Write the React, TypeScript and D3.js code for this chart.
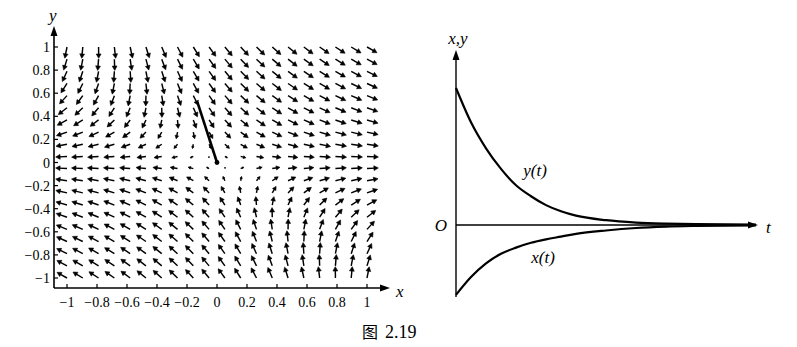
import React from 'react';
import * as d3 from 'd3';

// vector field: dx/dt = a*x + b*y, dy/dt = c*x + d*y
const dxCoef = [0.75, 0.6];
const dyCoef = [0, -1];
const gridCount = 20;
const tickVals = [-1, -0.8, -0.6, -0.4, -0.2, 0, 0.2, 0.4, 0.6, 0.8, 1];
const tickText = ['−1', '−0.8', '−0.6', '−0.4', '−0.2', '0', '0.2', '0.4', '0.6', '0.8', '1'];
// straight trajectory into the origin
const trajX = [-0.13, 0];
const trajY = [0.52, 0];

// right panel
const tVals = [0, 0.5, 1, 1.5, 2, 2.5, 3, 3.5, 4, 5, 6, 7, 8, 9, 10];
const yVals = [1, 0.75, 0.56, 0.41, 0.29, 0.21, 0.145, 0.1, 0.068, 0.035, 0.018, 0.01, 0.006, 0.004, 0.003];
const xVals = [-0.51, -0.38, -0.28, -0.21, -0.165, -0.13, -0.105, -0.085, -0.065, -0.04, -0.022, -0.012, -0.007, -0.004, -0.003];

const serif = "'Liberation Serif', 'DejaVu Serif', 'Times New Roman', serif";
const txt = { fontFamily: serif };
const itxt = { fontFamily: serif, fontStyle: 'italic' as const };

const App = () => {
  const xs = d3.scaleLinear().domain([-1, 1]).range([67, 367]);
  const ys = d3.scaleLinear().domain([-1, 1]).range([278, 47]);
  const axX = 54;
  const axY = 288;

  const grid = d3.range(gridCount).map((i) => -1 + (2 * i) / (gridCount - 1));

  const arrows: { x0: number; y0: number; x1: number; y1: number; h: string }[] = [];
  grid.forEach((gx) => {
    grid.forEach((gy) => {
      const u = dxCoef[0] * gx + dxCoef[1] * gy;
      const v = dyCoef[0] * gx + dyCoef[1] * gy;
      const x0 = xs(gx);
      const y0 = ys(gy);
      const px = xs(gx + u) - x0;
      const py = ys(gy + v) - y0;
      const mp = Math.hypot(px, py);
      if (mp < 1e-6) return;
      const L = 11.5 * Math.tanh(mp / 45);
      const x1 = x0 + (px / mp) * L;
      const y1 = y0 + (py / mp) * L;
      const hs = Math.min(5, L * 0.55);
      const ang = Math.atan2(py, px);
      const a1 = ang + Math.PI - 0.5;
      const a2 = ang + Math.PI + 0.5;
      const h = `M${x1 + hs * Math.cos(a1)},${y1 + hs * Math.sin(a1)}L${x1},${y1}L${x1 + hs * Math.cos(a2)},${y1 + hs * Math.sin(a2)}Z`;
      // shaft stops inside the head
      const sx = x1 - (px / mp) * hs * 0.6;
      const sy = y1 - (py / mp) * hs * 0.6;
      arrows.push({ x0, y0, x1: sx, y1: sy, h });
    });
  });

  const traj = d3
    .line<number>()
    .x((_, i) => xs(trajX[i]))
    .y((_, i) => ys(trajY[i]))(trajX);

  // right panel scales
  const ts = d3.scaleLinear().domain([0, 10]).range([456, 756]);
  const vs = d3.scaleLinear().domain([0, 1]).range([225, 88]);
  const curve = (vals: number[]) =>
    d3
      .line<number>()
      .x((_, i) => ts(tVals[i]))
      .y((d) => vs(d))
      .curve(d3.curveMonotoneX)(vals) || '';

  return (
    <svg width={797} height={347} style={{ position: 'absolute', left: 0, top: 0, background: '#fff' }}>
      {/* left panel: direction field */}
      <g stroke="#000" fill="#000" strokeWidth={1.45}>
        {arrows.map((a, i) => (
          <g key={i}>
            <line x1={a.x0} y1={a.y0} x2={a.x1} y2={a.y1} />
            <path d={a.h} strokeWidth={0.6} strokeLinejoin="miter" />
          </g>
        ))}
      </g>

      {/* axes */}
      <g stroke="#000" strokeWidth={1.6}>
        <line x1={axX} y1={axY} x2={axX} y2={32} />
        <line x1={axX} y1={axY} x2={383} y2={axY} />
      </g>
      <path d={`M${axX},26L${axX - 3.5},36L${axX + 3.5},36Z`} fill="#000" />
      <path d={`M390,${axY}L380,${axY - 3.5}L380,${axY + 3.5}Z`} fill="#000" />
      {tickVals.map((t, i) => (
        <g key={'t' + i} style={txt} fontSize={14}>
          <line x1={xs(t)} x2={xs(t)} y1={axY} y2={axY - 4} stroke="#000" strokeWidth={1.2} />
          <line x1={axX} x2={axX + 4} y1={ys(t)} y2={ys(t)} stroke="#000" strokeWidth={1.2} />
          <text x={xs(t)} y={axY + 19} textAnchor="middle" style={txt}>
            {tickText[i]}
          </text>
          <text x={axX - 4} y={ys(t) + 5} textAnchor="end" style={txt}>
            {tickText[i]}
          </text>
        </g>
      ))}
      <text x={396} y={297} style={itxt} fontSize={17}>
        x
      </text>
      <text x={49} y={21} style={itxt} fontSize={17}>
        y
      </text>

      <path d={traj || ''} stroke="#000" strokeWidth={2.6} fill="none" />
      <circle cx={xs(0)} cy={ys(0)} r={2.4} fill="#000" />

      {/* right panel: x(t), y(t) */}
      <g stroke="#000" fill="none">
        <line x1={ts(0)} y1={297} x2={ts(0)} y2={58} strokeWidth={1.4} />
        <line x1={ts(0)} y1={vs(0)} x2={750} y2={vs(0)} strokeWidth={1.4} />
        <path d={curve(yVals)} strokeWidth={2.2} />
        <path d={curve(xVals)} strokeWidth={2.2} />
      </g>
      <path d={`M${ts(0)},50L${ts(0) - 3.5},60L${ts(0) + 3.5},60Z`} fill="#000" />
      <path d={`M758,${vs(0)}L748,${vs(0) - 3.5}L748,${vs(0) + 3.5}Z`} fill="#000" />
      <g fontSize={17}>
        <text x={ts(0) + 2} y={44} textAnchor="middle" style={itxt}>
          x,y
        </text>
        <text x={441} y={231} textAnchor="middle" style={itxt}>
          O
        </text>
        <text x={766} y={233} style={itxt}>
          t
        </text>
        <text x={535} y={176} textAnchor="middle" style={itxt}>
          y(t)
        </text>
        <text x={543} y={263} textAnchor="middle" style={itxt}>
          x(t)
        </text>
      </g>

      {/* caption */}
      <text x={362} y={338} style={{ fontFamily: "'Noto Sans CJK SC', sans-serif" }} fontSize={16}>
        图
      </text>
      <text x={385} y={338} style={txt} fontSize={18}>
        2.19
      </text>
    </svg>
  );
};

export default App;
